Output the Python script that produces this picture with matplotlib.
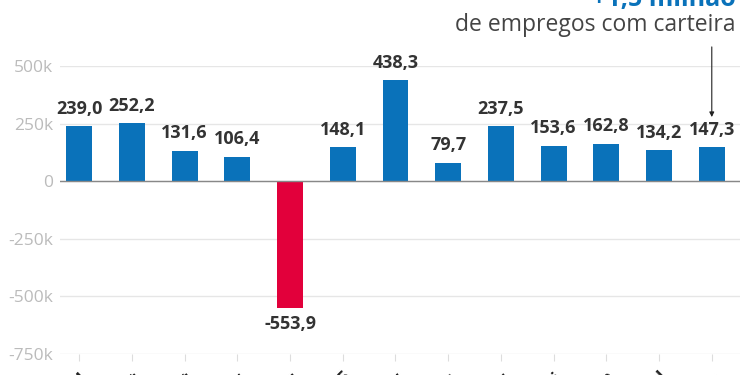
import matplotlib
matplotlib.use("Agg")
import matplotlib.pyplot as plt
from matplotlib.ticker import FuncFormatter

plt.rcParams['font.family'] = ['Open Sans', 'DejaVu Sans']

# saldo mensal de empregos formais (mil)
months = ["ago/24", "set", "out", "nov", "dez", "jan/25", "fev", "mar",
          "abr", "mai", "jun", "jul", "ago"]
values = [239.0, 252.2, 131.6, 106.4, -553.9, 148.1, 438.3, 79.7,
          237.5, 153.6, 162.8, 134.2, 147.3]
labels = ["239,0", "252,2", "131,6", "106,4", "-553,9", "148,1", "438,3", "79,7",
          "237,5", "153,6", "162,8", "134,2", "147,3"]
yticks = [-750, -500, -250, 0, 250, 500]

BLUE = "#0a72ba"
RED = "#e2003b"

fig = plt.figure(figsize=(7.5, 3.75), dpi=100)
ax = fig.add_axes([0.08, 0.0573, 0.907, 0.7667])

x = list(range(len(values)))
colors = [RED if v < 0 else BLUE for v in values]
ax.bar(x, values, width=0.49, color=colors, zorder=3)

for xi, v, lab in zip(x, values, labels):
    if v >= 0:
        ax.annotate(lab, (xi, v), xytext=(0, 6), textcoords="offset points",
                    ha="center", va="bottom", fontsize=13, fontweight="bold",
                    color="#333333")
    else:
        ax.annotate(lab, (xi, v), xytext=(0, -5), textcoords="offset points",
                    ha="center", va="top", fontsize=13, fontweight="bold",
                    color="#333333")

ax.set_xlim(-0.364, 12.54)
ax.set_ylim(-750, 500)
ax.set_yticks(yticks)
ax.yaxis.set_major_formatter(FuncFormatter(lambda v, p: "0" if v == 0 else f"{int(v)}k"))
ax.grid(axis="y", color="#e6e6e6", linewidth=1, zorder=0)
ax.axhline(0, color="#888888", linewidth=1, zorder=4)

ax.set_xticks(x)
ax.set_xticklabels(months, rotation=45, ha="right", rotation_mode="anchor",
                   fontsize=12, fontweight="bold", color="#222222")
ax.tick_params(axis="x", length=5, color="#dddddd", pad=6)
ax.tick_params(axis="y", length=0, labelsize=12.5, labelcolor="#bbbbbb", pad=5)

for s in ax.spines.values():
    s.set_visible(False)

# destaque: acumulado do ano
ax.annotate("", xy=(12, 278), xytext=(12, 583), xycoords="data",
            arrowprops=dict(arrowstyle="-|>", color="#222222", lw=0.8,
                            mutation_scale=7, shrinkA=0, shrinkB=0),
            annotation_clip=False)
fig.text(0.981, 0.983, "+1,5 milhão", ha="right", va="baseline",
         fontsize=18, fontweight="bold", color=BLUE)
fig.text(0.981, 0.917, "de empregos com carteira", ha="right", va="baseline",
         fontsize=16.5, color="#444444")

fig.savefig("out.png", dpi=100)
